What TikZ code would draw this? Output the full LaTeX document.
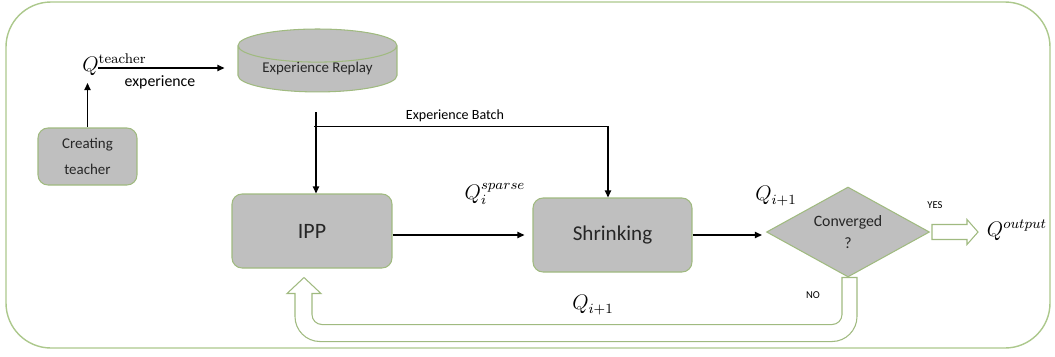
\documentclass[tikz,border=0pt]{standalone}
\usepackage{amsmath}
\usepackage[no-math]{fontspec}
\setmainfont{Carlito}
\usetikzlibrary{shapes.geometric,arrows.meta,calc,positioning}

\definecolor{boxfill}{RGB}{191,191,191}
\definecolor{boxline}{RGB}{160,186,128}
\definecolor{frameline}{RGB}{172,200,140}
\definecolor{boxtext}{RGB}{38,38,38}

\tikzset{
  proc/.style={draw=boxline,fill=boxfill,rounded corners=0.2cm,line width=0.6pt,
    inner sep=0pt,text=boxtext},
  lab/.style={inner sep=0pt},
  arr/.style={-{Triangle[length=4pt,width=3.5pt]},line width=0.8pt},
  hollow/.style={draw=boxline,fill=white,line width=0.6pt},
}

\begin{document}
\begin{tikzpicture}[x=0.02cm,y=-0.02cm]
    \useasboundingbox (0,0) rectangle (1055,356);
    \draw[frameline,line width=0.8pt,rounded corners=0.9cm] (6,2) rectangle (1050,348);

    % boxes
    \node[proc,minimum width=1.98cm,minimum height=1.14cm,align=center,
      font=\fontsize{8.5}{14.7}\selectfont] (teach) at (87.5,156.5) {Creating\\teacher};
    \node[cylinder,shape border rotate=90,aspect=0.3,draw=boxline,fill=boxfill,
      line width=0.6pt,text=boxtext,inner sep=0pt,minimum width=3.18cm,minimum height=1.16cm,
      font=\fontsize{8.5}{10}\selectfont] (replay) at (317.5,69) {Experience Replay};
    \node[proc,minimum width=3.2cm,minimum height=1.48cm,
      font=\fontsize{12.5}{15}\selectfont] (ipp) at (312,231) {IPP};
    \node[proc,minimum width=3.18cm,minimum height=1.48cm,
      font=\fontsize{12}{15}\selectfont] (shrink) at (612.5,235) {Shrinking};
    \node[diamond,aspect=1.8,draw=boxline,fill=boxfill,line width=0.6pt,text=boxtext,
      inner sep=0pt,minimum width=3.26cm,minimum height=1.8cm,align=center,
      font=\fontsize{9}{12.5}\selectfont] (conv) at (848,232) {Converged\\?};

    % labels
    \node[lab,anchor=base west,font=\fontsize{12}{14}\selectfont] (qteach) at (82,71) {$Q^{\mathrm{teacher}}$};
    \node[lab,font=\fontsize{9}{11}\selectfont] (explab) at (160,82) {experience};
    \node[lab,font=\fontsize{8}{10}\selectfont] (batchlab) at (455,116) {Experience Batch};
    \node[lab,font=\fontsize{12}{14}\selectfont] (qsparse) at (495,194) {$Q_i^{sparse}$};
    \node[lab,font=\fontsize{12}{14}\selectfont] (qnexta) at (776,196) {$Q_{i+1}$};
    \node[lab,font=\fontsize{12}{14}\selectfont] (qnextb) at (593,305) {$Q_{i+1}$};
    \node[lab,font=\fontsize{12}{14}\selectfont] (qout) at (1017,230) {$Q^{output}$};
    \node[lab,font=\fontsize{6}{7}\selectfont] (yeslab) at (935,205) {YES};
    \node[lab,font=\fontsize{6}{7}\selectfont] (nolab) at (813,295) {NO};

    % connectors
    \draw[arr] (teach.north) -- ($(teach.north |- qteach.base)+(0,12)$);
    \draw[arr] ($(qteach.base west)+(16,-3)$) -- ($(replay.west |- qteach.base)+(-13,-3)$);

    \coordinate (batchtop) at ($(replay.south)+(-1.5,20)$);
    \coordinate (batchsplit) at ($(batchtop)+(-2,14)$);
    \draw[arr] (batchtop) -- (batchtop |- ipp.north);
    \draw[arr] (batchsplit) -| ($(shrink.north)+(-4.5,0)$);

    \draw[arr,shorten >=0.16cm] (ipp.east |- shrink.west) -- (shrink.west);
    \draw[arr,shorten >=0.08cm] (shrink.east) -- (shrink.east -| conv.west);

    % hollow arrows
    \draw[hollow,shift={(conv.east)}] (2,-7.5) -- (37,-7.5) -- (37,-12.5) -- (48,0)
      -- (37,12.5) -- (37,7.5) -- (2,7.5) -- cycle;
    \draw[hollow,shift={(conv.south)}] (9,0) -- (9,39) arc(0:90:25) -- (-528,64)
      arc(90:180:25) -- (-553,16) -- (-561,16) -- (-544,0) -- (-527,16) -- (-536,16)
      -- (-536,37) arc(180:90:10) -- (-16,47) arc(90:0:10) -- (-6,0) -- cycle;
\end{tikzpicture}
\end{document}
